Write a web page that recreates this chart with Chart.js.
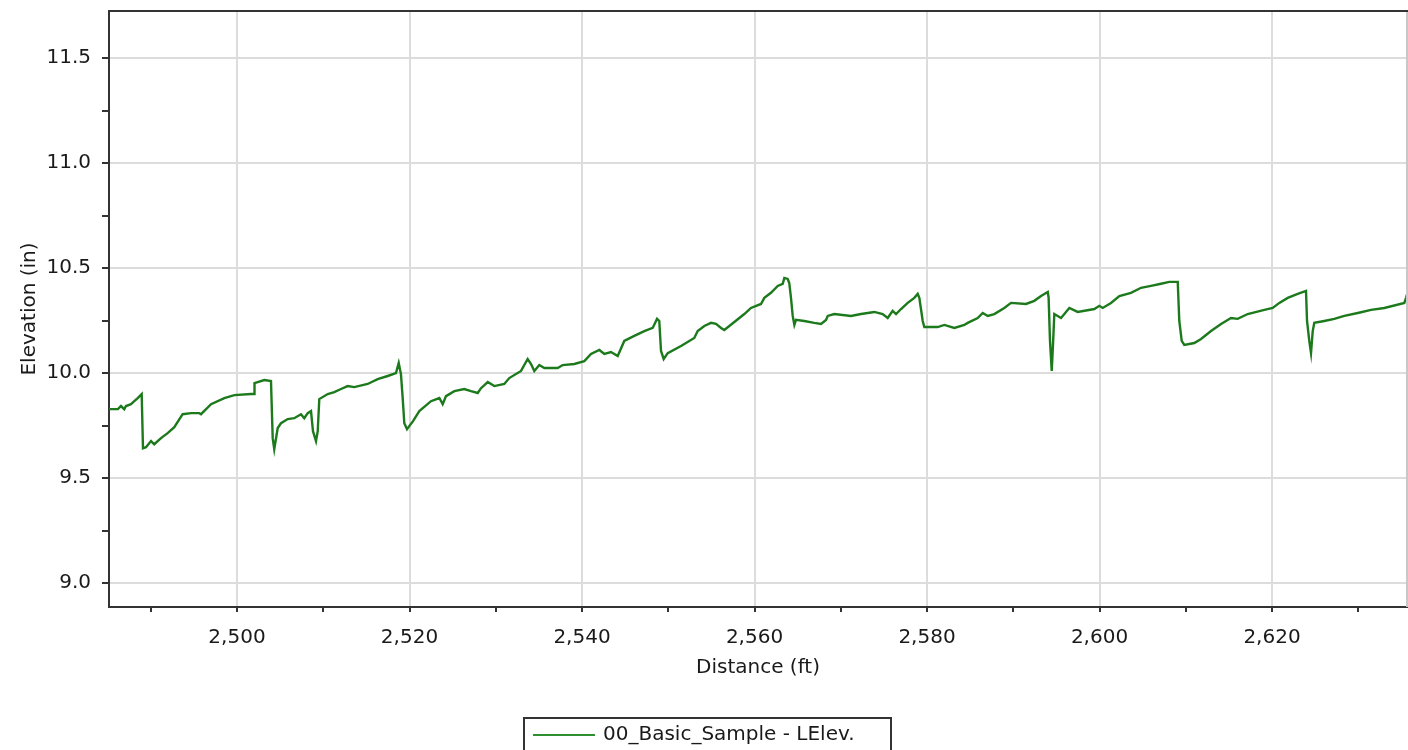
<!DOCTYPE html>
<html>
<head>
<meta charset="utf-8">
<title>Elevation profile</title>
<script src="https://cdn.jsdelivr.net/npm/chart.js@4/dist/chart.umd.min.js"></script>
<style>
  html, body { margin: 0; padding: 0; background: #ffffff; }
  #wrap { width: 1408px; height: 750px; }
</style>
</head>
<body>
<div id="wrap"><canvas id="chart" width="1408" height="750"></canvas></div>
<script>
// Survey distance along the run (ft)
const distance = [
  2485.16, 2486.20, 2486.55, 2486.93, 2487.13, 2487.71, 2488.09, 2488.49, 2488.95, 2489.10,
  2489.45, 2490.03, 2490.41, 2491.19, 2491.96, 2492.73, 2493.70, 2494.67, 2495.63, 2495.83,
  2496.99, 2498.53, 2499.69, 2501.62, 2502.00, 2502.03, 2503.17, 2503.94, 2504.14, 2504.32,
  2504.72, 2505.10, 2505.88, 2506.64, 2507.42, 2507.80, 2508.20, 2508.58, 2508.81, 2509.16,
  2509.36, 2509.54, 2510.52, 2511.28, 2512.06, 2512.83, 2513.60, 2515.15, 2516.31, 2517.47,
  2518.43, 2518.75, 2519.01, 2519.21, 2519.40, 2519.71, 2520.41, 2521.14, 2522.49, 2523.46,
  2523.85, 2524.23, 2525.20, 2526.35, 2527.13, 2527.91, 2528.29, 2529.07, 2529.83, 2530.99,
  2531.57, 2532.93, 2533.70, 2534.09, 2534.47, 2535.05, 2535.63, 2537.18, 2537.76, 2539.11,
  2540.27, 2541.04, 2542.01, 2542.59, 2543.36, 2544.14, 2544.90, 2546.06, 2547.22, 2548.20,
  2548.70, 2548.96, 2549.16, 2549.47, 2549.94, 2551.48, 2553.02, 2553.41, 2554.18, 2554.96,
  2555.54, 2556.12, 2556.50, 2557.66, 2558.82, 2559.59, 2560.75, 2561.14, 2561.91, 2562.69,
  2563.27, 2563.46, 2563.85, 2564.03, 2564.23, 2564.43, 2564.62, 2564.81, 2565.77, 2566.93,
  2567.71, 2568.29, 2568.49, 2569.25, 2571.19, 2572.35, 2573.89, 2574.86, 2575.44, 2576.02,
  2576.41, 2576.99, 2577.76, 2578.53, 2578.92, 2579.11, 2579.30, 2579.50, 2579.69, 2581.24,
  2582.01, 2583.17, 2584.33, 2584.72, 2585.88, 2586.46, 2587.04, 2587.80, 2588.96, 2589.74,
  2591.48, 2592.44, 2593.22, 2594.00, 2594.10, 2594.26, 2594.46, 2594.61, 2594.76, 2595.54,
  2596.50, 2597.47, 2599.40, 2599.98, 2600.37, 2601.33, 2602.30, 2603.65, 2604.81, 2605.97,
  2607.13, 2608.09, 2609.07, 2609.25, 2609.53, 2609.83, 2610.99, 2611.77, 2612.93, 2614.09,
  2615.25, 2616.02, 2617.18, 2619.11, 2620.08, 2620.85, 2621.82, 2622.98, 2623.94, 2624.06,
  2624.32, 2624.52, 2624.72, 2624.90, 2626.06, 2627.22, 2628.38, 2629.94, 2631.48, 2633.02,
  2635.34, 2635.54, 2635.77
];

// Left rail elevation at each distance (in)
const leftElevation = [
  9.828, 9.828, 9.843, 9.828, 9.843, 9.852, 9.866, 9.881, 9.900, 9.642,
  9.647, 9.676, 9.661, 9.690, 9.714, 9.742, 9.804, 9.809, 9.809, 9.804,
  9.852, 9.881, 9.895, 9.900, 9.900, 9.952, 9.967, 9.962, 9.690, 9.637,
  9.738, 9.761, 9.781, 9.785, 9.804, 9.785, 9.809, 9.819, 9.723, 9.676,
  9.723, 9.876, 9.900, 9.909, 9.924, 9.938, 9.933, 9.948, 9.971, 9.986,
  10.000, 10.048, 9.995, 9.881, 9.761, 9.733, 9.771, 9.819, 9.866, 9.881,
  9.852, 9.890, 9.914, 9.924, 9.914, 9.905, 9.928, 9.957, 9.938, 9.948,
  9.976, 10.010, 10.067, 10.043, 10.010, 10.038, 10.024, 10.024, 10.038, 10.043,
  10.057, 10.091, 10.110, 10.091, 10.100, 10.081, 10.153, 10.177, 10.200, 10.215,
  10.258, 10.248, 10.105, 10.067, 10.095, 10.129, 10.167, 10.200, 10.224, 10.239,
  10.234, 10.215, 10.205, 10.243, 10.281, 10.310, 10.329, 10.358, 10.382, 10.415,
  10.425, 10.453, 10.448, 10.429, 10.358, 10.272, 10.229, 10.253, 10.248, 10.239,
  10.234, 10.253, 10.272, 10.281, 10.272, 10.281, 10.291, 10.281, 10.262, 10.296,
  10.281, 10.305, 10.334, 10.358, 10.377, 10.358, 10.305, 10.248, 10.219, 10.219,
  10.229, 10.215, 10.229, 10.239, 10.262, 10.286, 10.272, 10.281, 10.310, 10.334,
  10.329, 10.344, 10.367, 10.386, 10.358, 10.153, 10.010, 10.138, 10.281, 10.262,
  10.310, 10.291, 10.305, 10.320, 10.310, 10.334, 10.367, 10.382, 10.406, 10.415,
  10.425, 10.434, 10.434, 10.248, 10.153, 10.134, 10.143, 10.162, 10.200, 10.234,
  10.262, 10.258, 10.281, 10.301, 10.310, 10.334, 10.358, 10.377, 10.391, 10.248,
  10.153, 10.095, 10.200, 10.239, 10.248, 10.258, 10.272, 10.286, 10.301, 10.310,
  10.334, 10.358, 10.391
];

const seriesLabel = '00_Basic_Sample - LElev.';
const xTitle = 'Distance (ft)';
const yTitle = 'Elevation (in)';
const xRange = [2485.16, 2635.65];
const yRange = [8.886, 11.724];

const points = distance.map((d, i) => ({ x: d, y: leftElevation[i] }));

const FONT = '"DejaVu Sans", Verdana, sans-serif';
const TEXT = '#1a1a1a';
const GRID = '#dcdcdc';
const AXIS = '#333333';
const LINE = '#1c7a1c';

const isMultiple = (v, step) => Math.abs(v / step - Math.round(v / step)) < 1e-6;

// Top and right frame edges, plus the boxed legend under the axis title
const framePlugin = {
  id: 'frame',
  afterDraw(chart) {
    const { ctx, chartArea: a } = chart;
    ctx.save();
    ctx.strokeStyle = '#c8c8c8';
    ctx.lineWidth = 2;
    ctx.beginPath();
    ctx.moveTo(a.right, a.top);
    ctx.lineTo(a.right, a.bottom);
    ctx.stroke();
    ctx.strokeStyle = AXIS;
    ctx.beginPath();
    ctx.moveTo(a.left - 1, a.top);
    ctx.lineTo(a.right + 1, a.top);
    ctx.stroke();

    const ds = chart.data.datasets[0];
    const box = { x: 524, y: 718, w: 367, h: 40 };
    ctx.lineWidth = 2;
    ctx.strokeStyle = AXIS;
    ctx.strokeRect(box.x, box.y, box.w, box.h);
    ctx.strokeStyle = '#2f8f2f';
    ctx.beginPath();
    ctx.moveTo(533, 735);
    ctx.lineTo(595, 735);
    ctx.stroke();
    ctx.fillStyle = TEXT;
    ctx.font = '20px ' + FONT;
    ctx.textAlign = 'left';
    ctx.textBaseline = 'middle';
    ctx.fillText(ds.label, 603, 735);
    ctx.restore();
  }
};

new Chart(document.getElementById('chart'), {
  type: 'line',
  data: {
    datasets: [{
      label: seriesLabel,
      data: points,
      borderColor: LINE,
      backgroundColor: LINE,
      borderWidth: 2.4,
      pointRadius: 0,
      tension: 0,
      fill: false
    }]
  },
  options: {
    responsive: false,
    animation: false,
    devicePixelRatio: 1,
    layout: { padding: { top: 11, right: 1, left: 0, bottom: 0 } },
    plugins: {
      legend: { display: false },
      tooltip: { enabled: false }
    },
    scales: {
      x: {
        type: 'linear',
        min: xRange[0],
        max: xRange[1],
        afterFit(scale) {
          scale.height = 143;
          scale.paddingLeft = 0;
          scale.paddingRight = 0;
        },
        ticks: {
          stepSize: 10,
          includeBounds: false,
          autoSkip: false,
          maxRotation: 0,
          padding: 14,
          color: TEXT,
          font: { family: FONT, size: 20 },
          callback: (v) => isMultiple(v, 20) ? v.toLocaleString('en-US') : ''
        },
        grid: {
          color: (c) => (c.tick && isMultiple(c.tick.value, 20)) ? GRID : 'rgba(0,0,0,0)',
          lineWidth: 2,
          tickColor: AXIS,
          tickLength: 5,
          drawTicks: true
        },
        border: { display: true, color: AXIS, width: 2 },
        title: {
          display: true,
          text: xTitle,
          color: TEXT,
          font: { family: FONT, size: 20 },
          padding: { top: 0, bottom: 70 }
        }
      },
      y: {
        type: 'linear',
        min: yRange[0],
        max: yRange[1],
        afterFit(scale) {
          scale.width = 109;
          scale.paddingTop = 0;
          scale.paddingBottom = 0;
        },
        ticks: {
          stepSize: 0.25,
          includeBounds: false,
          autoSkip: false,
          padding: 11,
          color: TEXT,
          font: { family: FONT, size: 20 },
          callback: (v) => isMultiple(v, 0.5) ? v.toFixed(1) : ''
        },
        grid: {
          color: (c) => (c.tick && isMultiple(c.tick.value, 0.5)) ? GRID : 'rgba(0,0,0,0)',
          lineWidth: 2,
          tickColor: AXIS,
          tickLength: 7,
          drawTicks: true
        },
        border: { display: true, color: AXIS, width: 2 },
        title: {
          display: true,
          text: yTitle,
          color: TEXT,
          font: { family: FONT, size: 20 },
          padding: { top: 18, bottom: 0 }
        }
      }
    }
  },
  plugins: [framePlugin]
});
</script>
</body>
</html>
